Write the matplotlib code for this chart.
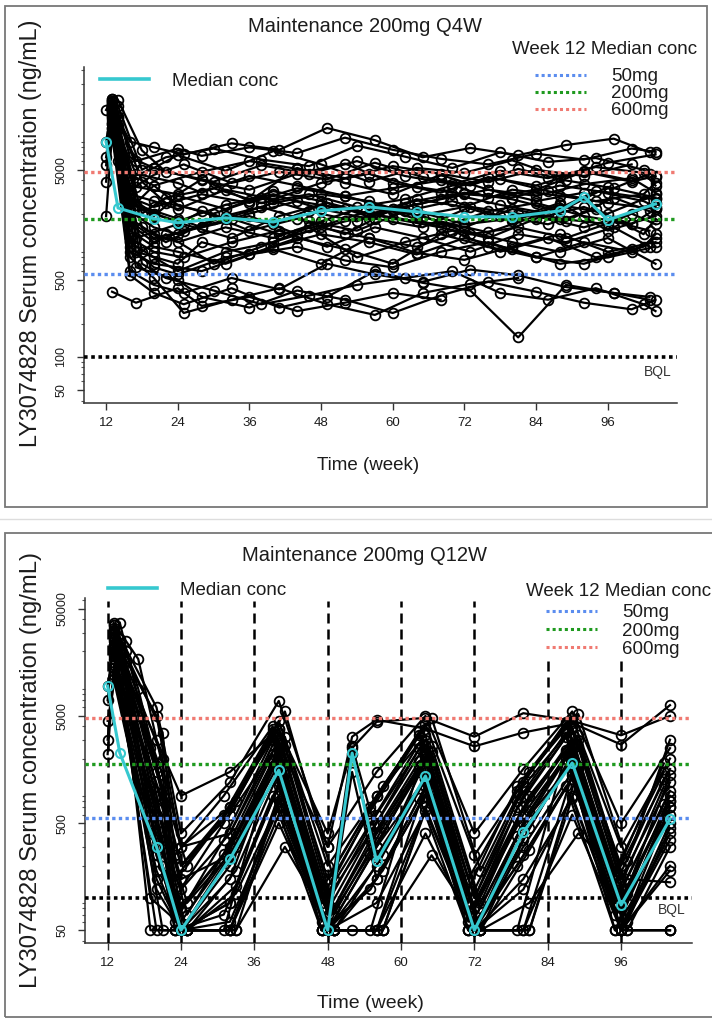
import matplotlib.pyplot as plt
from matplotlib.lines import Line2D
from matplotlib.patches import Rectangle
from matplotlib.ticker import FixedLocator, LogLocator, NullFormatter

plt.rcParams['font.family'] = ['Liberation Sans', 'DejaVu Sans']

# ---------------- data ----------------
# week-12 median concentrations of the three earlier dose groups (ng/mL)
ref_labels = ['50mg', '200mg', '600mg']
ref_conc = [560, 1780, 4750]
ref_colors = ['#5b8def', '#1f9a1f', '#f07a72']
bql = 100
week_ticks = [12, 24, 36, 48, 60, 72, 84, 96]

# Q4W panel: visit schedules (weeks)
q4w_wk_a = [12, 13, 16, 20, 24, 32, 40, 48, 56, 64, 72, 80, 88, 96, 104]
q4w_wk_b = [12, 13, 17, 24, 28, 36, 44, 52, 60, 68, 76, 84, 92, 100, 104]
q4w_wk_c = [12, 13, 16, 20, 25, 33, 41, 49, 57, 65, 73, 81, 89, 97, 103]
q4w_wk_d = [12, 14, 18, 22, 30, 38, 46, 54, 62, 70, 78, 86, 94, 102, 104]
q4w_wk_e = [12, 13, 14, 16, 20, 28, 36, 44, 52, 60, 68, 76, 84, 92, 100]

# Q4W panel: one row per subject (schedule, concentrations)
q4w_subjects = [
    (q4w_wk_a, [None, 21000, 4200, 5200, 6800, 4900, 7400, 5600, 3900, 5200, 4700, 6100, 4300, 5800, 6900]),
    (q4w_wk_a, [None, 18000, 2100, 1500, 1300, 1900, 1600, 2400, 2000, 1700, 1500, 2200, 1800, 1600, 2500]),
    (q4w_wk_b, [None, 15000, 900, 700, 1100, 850, 1200, 950, 700, 1300, 1000, 800, 1100, 900, 1200]),
    (q4w_wk_b, [None, 20000, 3500, 3000, 4100, 2600, 5200, 3800, 3000, 4500, 3300, 2900, 3700, 4200, 3100]),
    (q4w_wk_c, [3900, 16000, 1200, 900, 800, 1100, 1400, 1000, 1500, 1200, 900, 1300, 1100, 1500, 1000]),
    (q4w_wk_c, [None, 12000, 600, 450, 380, 520, 410, 700, 560, 480, 620, 550, 430, 380, 350]),
    (q4w_wk_d, [None, 19000, 5000, 6500, 7800, 6200, 5400, 8300, 6600, 5200, 7200, 5900, 6400, 5000, 4300]),
    (q4w_wk_d, [None, 14000, 1500, 1100, 1800, 2300, 1700, 1400, 2100, 2600, 1900, 1600, 2200, 1300, 1800]),
    (q4w_wk_a, [17500, 22000, 3000, 2600, 2200, 3300, 2700, 3800, 4600, 3500, 3000, 2800, 3600, 3100, 2700]),
    (q4w_wk_a, [None, 11000, 1000, 650, 560, 800, 950, 700, 1200, 880, 760, 1000, 1300, 900, 1100]),
    (q4w_wk_b, [None, 390, 310, 420, 290, 350, 260, 310, 380, 330, None, None, None, None, None]),
    (q4w_wk_c, [None, 13000, 2600, 2000, 1600, 1200, 1900, 2500, 1800, 1500, 2300, 2000, 1700, 2800, 2100]),
    (q4w_wk_d, [None, 9000, 700, 520, 400, 300, 360, 450, 520, 600, 380, 330, 420, 300, 260]),
    (q4w_wk_a, [None, 16000, 1800, 1300, 1100, 1500, 1200, 1700, 2400, 2100, 1600, 1800, 2500, 1400, 1900]),
    (q4w_wk_b, [9000, 19500, 6000, 7800, 6700, 8000, 7100, 9800, 7600, 6300, 5600, 7000, 6200, 7800, 7300]),
    (q4w_wk_c, [None, 17000, 800, 520, 250, 330, 420, 300, 240, 380, 460, 520, None, None, None]),
    (q4w_wk_d, [None, 12500, 2000, 2800, 3400, 2500, 3000, 2300, 2700, 3600, 4100, 3200, 2600, 3000, 3800]),
    (q4w_wk_a, [None, 20500, 1400, 1000, 900, 700, 1000, 1300, 1100, 850, 1200, 950, 700, 800, 1000]),
    (q4w_wk_b, [None, 14500, 4600, 3800, 3100, 4400, 3600, 2900, 3400, 4000, 2800, 3300, 4800, 3900, 4400]),
    (q4w_wk_c, [1900, 10500, 550, 380, 300, 420, 280, 350, 600, 470, 400, 150, 450, 380, 330]),
    (q4w_wk_d, [None, 21500, 7500, 4800, 3900, 5500, 4600, 6000, 4400, 3700, 4900, 4200, 5300, 4700, 3600]),
    (q4w_wk_a, [None, 13500, 2500, 1900, 2900, 2200, 3200, 2600, 2000, 2400, 3100, 2700, 2100, 3500, 2800]),
    (q4w_wk_b, [None, 17500, 1200, 1600, 2100, 1400, 1800, 1300, 2200, 1700, 1350, 1900, 1500, 2000, 1600]),
    (q4w_wk_c, [None, 18500, 3300, 4500, 5600, 3800, 4800, 4100, 5800, 4300, 3600, 5100, 4000, 3400, 4600]),
    (q4w_wk_d, [None, 11500, 900, 1300, 700, 1000, 1500, 800, 1100, 1400, 900, 1200, 800, 1000, 1300]),
    (q4w_wk_a, [5500, 15500, 2200, 3600, 2400, 1800, 2500, 3000, 2600, 1900, 2300, 3300, 2900, 2500, 2200]),
    (q4w_wk_b, [None, 10000, 650, 500, 350, 280, 400, 330, 250, 360, 480, 390, 310, 270, 330]),
    (q4w_wk_c, [None, 19000, 9000, 8000, 6900, 8700, 7600, 12000, 9300, 6500, 7900, 6800, 8400, 9600, 7200]),
    (q4w_wk_d, [None, 15000, 3900, 2500, 2000, 2800, 2100, 1700, 2500, 3000, 2400, 2000, 3200, 2600, 2300]),
    (q4w_wk_a, [None, 12000, 1100, 800, 600, 900, 1100, 1500, 1200, 1000, 1400, 1100, 900, 1200, 700]),
    (q4w_wk_e, [None, 22000, 15000, 2800, 2300, 3000, 2500, 3400, 2900, 2200, 2700, 3300, 2600, 3100, None]),
    (q4w_wk_e, [None, 18500, 9000, 1700, 1200, 1500, 1900, 1300, 1700, 2100, 1500, 1200, 1800, 2300, 1600]),
    (q4w_wk_e, [None, 20000, 12000, 4500, 3600, 4800, 6000, 5100, 4200, 5400, 4600, 3900, 5000, 4400, 5600]),
    (q4w_wk_e, [None, 16500, 6000, 900, 700, 600, 850, 1000, 750, 650, 900, 1100, 800, 700, 950]),
    (q4w_wk_e, [None, 21000, 17000, 6500, 5200, 4000, 3300, 4600, 5700, 3800, 3100, 4300, 3600, 4900, 4000]),
    (q4w_wk_a, [None, 19000, 2800, 2000, 1700, 2400, 3000, 2200, 1800, 2700, 2300, 1700, 2400, 2000, 3000]),
    (q4w_wk_c, [6500, 17000, 1600, 1100, 1400, 1800, 1300, 1600, 2200, 1900, 1300, 1500, 1200, 1700, 1400]),
    (q4w_wk_b, [None, 13000, 2400, 1800, 1500, 2000, 2600, 2200, 1800, 1500, 2100, 2500, 1900, 1600, 2200]),
]

q4w_median_wk = [12, 14, 20, 24, 32, 40, 48, 56, 64, 72, 80, 88, 92, 96, 104]
q4w_median = [9000, 2250, 1800, 1650, 1830, 1680, 2120, 2300, 2080, 1870, 1870, 2120, 2850, 1750, 2450]

# Q12W panel: visit schedules (weeks); BQL samples are shown at 50
q12w_wk_a = [12, 13, 20, 24, 32, 40, 48, 56, 64, 72, 80, 88, 96, 104]
q12w_wk_b = [12, 14, 19, 25, 33, 41, 49, 57, 65, 73, 81, 89, 97, 104]
q12w_wk_c = [12, 13, 21, 23, 31, 39, 47, 55, 63, 71, 79, 87, 95, 103]
q12w_wk_d = [12, 13, 20, 24, 32, 40, 48, 52, 56, 64, 72, 80, 88, 96, 104]
q12w_wk_e = [12, 13, 15, 17, 24, 32, 40, 48, 56, 64, 72, 80, 88, 96, 104]

q12w_subjects = [
    (q12w_wk_a, [None, 30000, 900, 50, 150, 2500, 50, 200, 1900, 50, 350, 2200, 50, 500]),
    (q12w_wk_a, [9500, 22000, 300, 50, 90, 1200, 50, 150, 1100, 50, 300, 1500, 50, 700]),
    (q12w_wk_a, [None, 25000, 1800, 120, 400, 3500, 90, 600, 3000, 100, 900, 3800, 150, 1200]),
    (q12w_wk_a, [None, 18000, 150, 50, 50, 800, 50, 50, 700, 50, 120, 900, 50, 50]),
    (q12w_wk_a, [None, 15000, 500, 50, 250, 1800, 50, 300, 1300, 50, 500, 1800, 50, 400]),
    (q12w_wk_a, [None, 27000, 5000, 300, 700, 4500, 200, 900, 4200, 250, 1200, 4800, 300, 2000]),
    (q12w_wk_a, [2200, 12000, 250, 50, 50, 600, 50, None, None, None, None, None, None, None]),
    (q12w_wk_a, [None, 35000, 6000, 400, 1200, 6900, 300, 1500, 5000, 400, 1600, 5500, 500, 2500]),
    (q12w_wk_a, [None, 21000, 50, 50, 50, 900, 50, 50, 1100, 50, 50, 1400, 50, 200]),
    (q12w_wk_a, [3000, 14000, 120, 50, 60, 700, 50, 90, 650, 50, 150, 850, 50, 180]),
    (q12w_wk_b, [None, 24000, 700, 50, 180, 2000, 50, 250, 1600, 50, 450, 2600, 90, 800]),
    (q12w_wk_b, [None, 20000, 400, 50, 130, 1500, 50, 180, 1200, 50, 280, 1700, 60, 450]),
    (q12w_wk_b, [None, 37000, 2500, 200, 800, 5500, 150, 1100, 4800, 180, 1500, 5200, 220, 3000]),
    (q12w_wk_b, [None, 16000, 1200, 90, 300, 2700, 70, 450, 2300, 80, 650, 3000, 110, 900]),
    (q12w_wk_b, [4500, 21000, 600, 50, 110, 1000, 50, 50, 950, 50, 50, 1300, 50, 50]),
    (q12w_wk_b, [None, 10500, 100, 50, 50, 300, 50, 50, 250, 50, 90, 400, 150, 140]),
    (q12w_wk_b, [None, 19000, 50, 50, 50, 1300, 50, 50, 1000, 50, 50, 1600, 50, 300]),
    (q12w_wk_b, [None, 26000, 1100, 70, 400, 3200, 80, 500, 2600, 90, 900, 3300, 120, 1400]),
    (q12w_wk_c, [None, 19000, 350, 50, 220, 1700, 50, 260, 1500, 50, 380, 2000, 70, 600]),
    (q12w_wk_c, [None, 26000, 1000, 60, 350, 3000, 60, 400, 2500, 60, 700, 3200, 100, 1100]),
    (q12w_wk_c, [None, 14000, 200, 50, 70, 900, 50, 120, 850, 50, 200, 1100, 50, 300]),
    (q12w_wk_c, [None, 33000, 3500, 250, 900, 4000, 120, 700, 3600, 150, 1000, 4400, 180, 1500]),
    (q12w_wk_c, [None, 17000, 800, 70, 260, 2200, 50, 350, 1900, 70, 550, 2400, 90, 750]),
    (q12w_wk_c, [7000, 29000, 1400, 100, 500, 3300, 90, 500, 2800, 90, 800, 3500, 130, 1300]),
    (q12w_wk_c, [None, 23000, 50, 50, 50, 1900, 50, 50, 1700, 50, 50, 2300, 50, 500]),
    (q12w_wk_c, [None, 30000, 2000, 150, 600, 3800, 100, 650, 3300, 120, 1100, 4200, 160, 1800]),
    (q12w_wk_d, [None, 22000, 3000, 900, 1500, 3800, 400, 2500, 4400, 4800, 3200, 5300, 4500, 3300, 5000]),
    (q12w_wk_d, [None, 28000, 1500, 200, 600, 2800, 300, 3200, 4600, 3800, 2600, 3500, 4300, 2700, 6300]),
    (q12w_wk_d, [None, 20000, 600, 50, 200, 1600, 50, 2200, 250, 1300, 50, 420, 1900, 80, 600]),
    (q12w_wk_d, [None, 23000, 900, 80, 300, 2400, 70, 2600, 400, 2000, 80, 600, 2500, 100, 800]),
    (q12w_wk_d, [None, 13000, 250, 50, 90, 1100, 50, 1500, 150, 900, 50, 250, 1300, 50, 350]),
    (q12w_wk_d, [None, 11000, 180, 50, 50, 500, 50, 50, 50, 400, 50, 50, 600, 50, 50]),
    (q12w_wk_e, [None, 37000, 25000, 17000, 300, 400, 3000, 100, 500, 2700, 80, 700, 3100, 120, 1000]),
    (q12w_wk_e, [None, 32000, 16000, 5000, 150, 250, 2200, 50, 300, 2100, 50, 500, 2700, 70, 700]),
    (q12w_wk_e, [None, 35000, 20000, 9000, 200, 700, 3800, 150, 900, 3300, 100, 1100, 3900, 200, 1600]),
]

q12w_median_wk = [12, 14, 20, 24, 32, 40, 48, 52, 56, 64, 72, 80, 88, 96, 104]
q12w_median = [9500, 2250, 300, 50, 230, 1560, 50, 2250, 220, 1375, 50, 410, 1820, 86, 545]
dose_weeks = [12, 24, 36, 48, 60, 72, 84, 96]

# ---------------- drawing ----------------
W, H = 712, 1021
text_col = '#1c1c1c'
cyan = '#36c8cf'


def fx(px):
    return px / W


def fy(py):
    return 1 - py / H


def draw_subjects(ax, subjects):
    for weeks, conc in subjects:
        pts = [(w, c) for w, c in zip(weeks, conc) if c is not None]
        ax.plot([p[0] for p in pts], [p[1] for p in pts], color='black', lw=1.6,
                marker='o', ms=7, mfc='none', mec='black', mew=1.3, zorder=2)


def style_axes(ax, ylim, yticks):
    ax.set_yscale('log')
    ax.set_xlim(8.3, 107.6)
    ax.set_ylim(*ylim)
    for s in ['top', 'right']:
        ax.spines[s].set_visible(False)
    for s in ['left', 'bottom']:
        ax.spines[s].set_color('#333333')
        ax.spines[s].set_linewidth(1.1)
    ax.xaxis.set_major_locator(FixedLocator(week_ticks))
    ax.set_xticklabels([str(w) for w in week_ticks])
    ax.yaxis.set_major_locator(FixedLocator(yticks))
    ax.set_yticklabels([str(v) for v in yticks])
    ax.yaxis.set_minor_locator(LogLocator(base=10, subs=range(2, 10)))
    ax.yaxis.set_minor_formatter(NullFormatter())
    ax.tick_params(axis='x', length=5, width=1, colors='#333333', labelsize=9.5,
                   labelcolor=text_col, pad=5)
    ax.tick_params(axis='y', which='major', length=5, width=1, colors='#333333',
                   labelsize=9, labelcolor=text_col, pad=7)
    ax.tick_params(axis='y', which='minor', length=2.5, width=0.8, colors='#555555')
    for lab in ax.get_yticklabels():
        lab.set_rotation(90)
        lab.set_va('center')


def draw_refs(ax, bql_xy):
    for conc, col in zip(ref_conc, ref_colors):
        ax.axhline(conc, color=col, lw=2.4, ls=(0, (1, 1)), zorder=3)
    ax.axhline(bql, color='black', lw=2.6, ls=(0, (1, 1)), zorder=3)
    ax.text(bql_xy[0], bql_xy[1], 'BQL', fontsize=10, color='#333333', ha='center', va='center')


def draw_legends(ax, med_anchor, title_xy, entry_anchor, row_gap):
    h_med = [Line2D([], [], color=cyan, lw=2.6)]
    leg1 = ax.legend(h_med, ['Median conc'], loc='center left', bbox_to_anchor=med_anchor,
                     frameon=False, fontsize=13.5, handlelength=2.6, handletextpad=1.25,
                     borderpad=0, borderaxespad=0, labelcolor=text_col)
    ax.add_artist(leg1)
    ax.text(title_xy[0], title_xy[1], 'Week 12 Median conc', transform=ax.transAxes,
            fontsize=13.5, color=text_col, ha='left', va='center', clip_on=False)
    h_ref = [Line2D([], [], color=c, lw=2.2, ls=(0, (1, 1))) for c in ref_colors]
    ax.legend(h_ref, ref_labels, loc='upper left', bbox_to_anchor=entry_anchor,
              frameon=False, fontsize=13.5, handlelength=2.7, handletextpad=1.35,
              borderpad=0, borderaxespad=0, labelspacing=row_gap, labelcolor=text_col)


fig = plt.figure(figsize=(W / 100, H / 100), dpi=100)

# panel frames (two screenshots stacked)
fig.add_artist(Rectangle((fx(5), fy(507)), fx(702), 501 / H, fill=False,
                         edgecolor='#777777', lw=1.3, transform=fig.transFigure))
fig.add_artist(Line2D([0, 1], [fy(519), fy(519)], color='#dddddd', lw=1, transform=fig.transFigure))
fig.add_artist(Rectangle((fx(5), fy(1017)), fx(720), 484 / H, fill=False,
                         edgecolor='#777777', lw=1.3, transform=fig.transFigure))

# ---- top panel: Q4W ----
ax1 = fig.add_axes([fx(84), fy(403), fx(677 - 84), (403 - 67) / H])
draw_subjects(ax1, q4w_subjects)
draw_refs(ax1, (104.3, 73))
ax1.plot(q4w_median_wk, q4w_median, color=cyan, lw=2.2, marker='o', ms=6.5,
         mfc='none', mec=cyan, mew=1.5, zorder=4)
style_axes(ax1, (38, 43000), [50, 100, 500, 5000])
draw_legends(ax1, ((100 - 84) / 593, (403 - 81) / 336), ((512 - 84) / 593, (403 - 49) / 336),
             ((535 - 84) / 593, (403 - 68) / 336), 0.0)
fig.text(fx(365), fy(27), 'Maintenance 200mg Q4W', fontsize=14.5, color=text_col,
         ha='center', va='center')
fig.text(fx(368), fy(465), 'Time (week)', fontsize=13.5, color=text_col, ha='center', va='center')
fig.text(fx(31), fy(233), 'LY3074828 Serum concentration (ng/mL)', fontsize=16.8,
         color=text_col, rotation=90, ha='center', va='center')

# ---- bottom panel: Q12W ----
ax2 = fig.add_axes([fx(85), fy(943), fx(692 - 85), (943 - 598) / H])
draw_subjects(ax2, q12w_subjects)
for w in dose_weeks:
    top = 0.99 if w <= 72 else 0.83
    ax2.axvline(w, ymin=0, ymax=top, color='black', lw=1.8, ls=(0, (4, 2.4)), zorder=3)
draw_refs(ax2, (104.3, 77))
ax2.plot(q12w_median_wk, q12w_median, color=cyan, lw=2.2, marker='o', ms=6.5,
         mfc='none', mec=cyan, mew=1.5, zorder=4)
style_axes(ax2, (38, 63000), [50, 500, 5000, 50000])
draw_legends(ax2, ((108 - 85) / 607, (943 - 590) / 345), ((526 - 85) / 607, (943 - 592) / 345),
             ((546 - 85) / 607, (943 - 604) / 345), 0.07)
fig.text(fx(365), fy(555), 'Maintenance 200mg Q12W', fontsize=14.5, color=text_col,
         ha='center', va='center')
fig.text(fx(370), fy(1003), 'Time (week)', fontsize=14, color=text_col, ha='center', va='center')
fig.text(fx(31), fy(770), 'LY3074828 Serum concentration (ng/mL)', fontsize=17.2,
         color=text_col, rotation=90, ha='center', va='center')

fig.savefig('out.png', dpi=100)
